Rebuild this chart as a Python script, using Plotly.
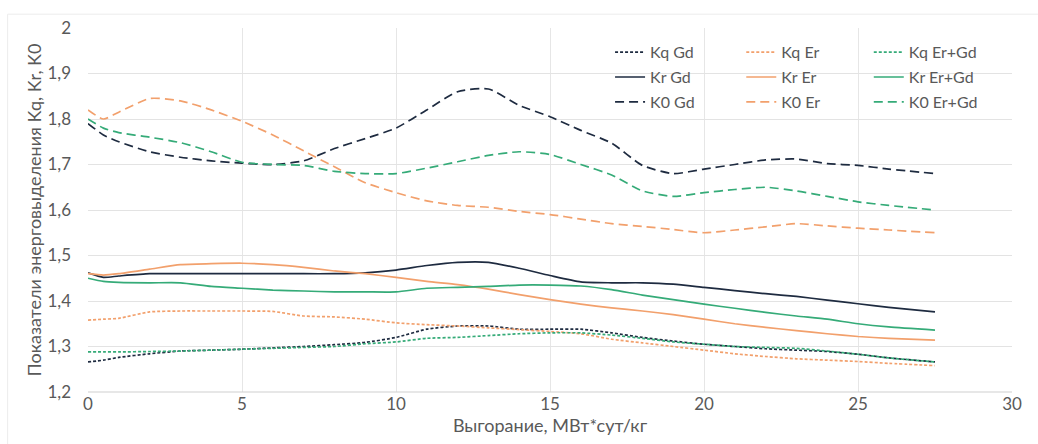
import plotly.graph_objects as go

# Burnup grid, MW*day/kg
burnup = [0, 0.5, 1, 2, 3, 4, 5, 6, 7, 8, 9, 10, 11, 12, 13, 14, 15, 16, 17, 18,
          19, 20, 21, 22, 23, 24, 25, 26, 27.5]

# Power peaking factors
kq_gd = [1.266, 1.270, 1.276, 1.284, 1.290, 1.292, 1.294, 1.297, 1.300, 1.304, 1.309, 1.320,
         1.338, 1.345, 1.345, 1.338, 1.338, 1.338, 1.330, 1.320, 1.312, 1.305, 1.300, 1.295,
         1.292, 1.289, 1.283, 1.275, 1.266]
kq_er = [1.358, 1.360, 1.362, 1.376, 1.378, 1.378, 1.378, 1.377, 1.367, 1.365, 1.360, 1.352,
         1.348, 1.345, 1.341, 1.337, 1.333, 1.328, 1.316, 1.308, 1.300, 1.292, 1.284, 1.278,
         1.273, 1.270, 1.267, 1.263, 1.258]
kq_ergd = [1.288, 1.288, 1.288, 1.289, 1.290, 1.292, 1.294, 1.296, 1.298, 1.300, 1.306, 1.310,
           1.318, 1.320, 1.324, 1.328, 1.330, 1.330, 1.325, 1.318, 1.310, 1.305, 1.300, 1.298,
           1.296, 1.290, 1.283, 1.275, 1.266]

kr_gd = [1.462, 1.452, 1.455, 1.460, 1.460, 1.460, 1.460, 1.460, 1.460, 1.460, 1.462, 1.468,
         1.478, 1.485, 1.485, 1.472, 1.456, 1.442, 1.440, 1.440, 1.437, 1.430, 1.423, 1.416,
         1.410, 1.402, 1.394, 1.386, 1.376]
kr_er = [1.460, 1.457, 1.460, 1.470, 1.480, 1.482, 1.483, 1.480, 1.474, 1.466, 1.460, 1.452,
         1.443, 1.436, 1.426, 1.414, 1.403, 1.393, 1.385, 1.378, 1.370, 1.360, 1.350, 1.342,
         1.335, 1.328, 1.322, 1.318, 1.314]
kr_ergd = [1.450, 1.443, 1.441, 1.440, 1.440, 1.432, 1.428, 1.424, 1.422, 1.420, 1.420, 1.420,
           1.428, 1.430, 1.432, 1.435, 1.435, 1.433, 1.425, 1.413, 1.403, 1.393, 1.384, 1.375,
           1.367, 1.360, 1.350, 1.343, 1.336]

k0_gd = [1.790, 1.765, 1.750, 1.728, 1.716, 1.708, 1.703, 1.700, 1.708, 1.735, 1.757, 1.780,
         1.820, 1.860, 1.866, 1.830, 1.805, 1.775, 1.747, 1.698, 1.680, 1.690, 1.700, 1.710,
         1.712, 1.702, 1.698, 1.690, 1.680]
k0_er = [1.820, 1.800, 1.815, 1.845, 1.840, 1.820, 1.795, 1.765, 1.730, 1.695, 1.660, 1.638,
         1.620, 1.610, 1.606, 1.597, 1.590, 1.580, 1.570, 1.564, 1.557, 1.550, 1.556, 1.563,
         1.570, 1.565, 1.560, 1.556, 1.550]
k0_ergd = [1.800, 1.780, 1.770, 1.760, 1.748, 1.728, 1.705, 1.700, 1.698, 1.685, 1.680, 1.680,
           1.692, 1.706, 1.720, 1.728, 1.722, 1.700, 1.677, 1.642, 1.630, 1.638, 1.645, 1.650,
           1.642, 1.630, 1.618, 1.610, 1.600]

C_GD = "#1e2b40"
C_ER = "#f2a06c"
C_ERGD = "#35ab78"
DOT = "3px,2px"
DASH = "9px,5px"

# (name, values, colour, dash, legend column)
series = [
    ("Kq Gd", kq_gd, C_GD, DOT, "legend"),
    ("Kr Gd", kr_gd, C_GD, "solid", "legend"),
    ("K0 Gd", k0_gd, C_GD, DASH, "legend"),
    ("Kq Er", kq_er, C_ER, DOT, "legend2"),
    ("Kr Er", kr_er, C_ER, "solid", "legend2"),
    ("K0 Er", k0_er, C_ER, DASH, "legend2"),
    ("Kq Er+Gd", kq_ergd, C_ERGD, DOT, "legend3"),
    ("Kr Er+Gd", kr_ergd, C_ERGD, "solid", "legend3"),
    ("K0 Er+Gd", k0_ergd, C_ERGD, DASH, "legend3"),
]

fig = go.Figure()
for name, vals, col, dash, leg in series:
    fig.add_trace(go.Scatter(
        x=burnup, y=vals, name=name, mode="lines",
        line=dict(color=col, width=1.7, dash=dash, shape="spline", smoothing=0.6),
        legend=leg, legendgroup=name,
    ))

FONT = "Lato"
TXT = "#595959"
leg_common = dict(
    bgcolor="rgba(255,255,255,0)", font=dict(family=FONT, size=16, color=TXT),
    yanchor="top", xanchor="left", tracegroupgap=1, itemwidth=30,
)

fig.update_layout(
    width=1038, height=444,
    margin=dict(l=88, r=26, t=28, b=52),
    paper_bgcolor="white", plot_bgcolor="white",
    separators=", ",
    font=dict(family=FONT, size=17, color=TXT),
    showlegend=True,
    legend=dict(x=0.565, y=0.98, **leg_common),
    legend2=dict(x=0.707, y=0.98, **leg_common),
    legend3=dict(x=0.845, y=0.98, **leg_common),
    xaxis=dict(
        range=[0, 30], dtick=5, tick0=0,
        showgrid=True, gridcolor="#e6e6e6", gridwidth=1,
        zeroline=False, showline=False, ticks="",
        tickfont=dict(family=FONT, size=17, color=TXT),
        title=dict(text="Выгорание, МВт*сут/кг", standoff=4,
                   font=dict(family=FONT, size=18, color=TXT)),
    ),
    yaxis=dict(
        range=[1.2, 2.0], dtick=0.1, tick0=1.2,
        showgrid=True, gridcolor="#e3e3e3", gridwidth=1,
        zeroline=False, showline=False, ticks="", ticklabelstandoff=16,
        tickfont=dict(family=FONT, size=17, color=TXT),
        title=dict(text="Показатели энерговыделения Kq, Kr, K0", standoff=1,
                   font=dict(family=FONT, size=18, color=TXT)),
    ),
    shapes=[
        # white backing behind the three legend columns
        dict(type="rect", xref="paper", yref="paper", x0=0.565, x1=0.985, y0=0.75, y1=0.99,
             fillcolor="white", line=dict(width=0), layer="between"),
        # bottom axis line
        dict(type="line", xref="paper", yref="paper", x0=0, x1=1, y0=0, y1=0,
             line=dict(color="#d0d0d0", width=1.2)),
        # chart-area frame (top and left edges)
        dict(type="line", xref="paper", yref="paper", x0=-0.087, x1=1.03, y0=1.038, y1=1.038,
             line=dict(color="#ececec", width=1)),
        dict(type="line", xref="paper", yref="paper", x0=-0.087, x1=-0.087, y0=-0.2, y1=1.038,
             line=dict(color="#ececec", width=1)),
    ],
)

fig.write_html("out.html")
